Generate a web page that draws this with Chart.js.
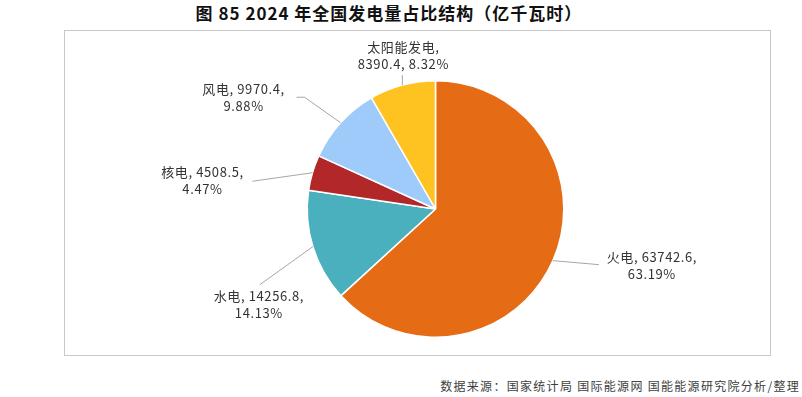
<!DOCTYPE html>
<html>
<head>
<meta charset="utf-8">
<script src="https://cdn.jsdelivr.net/npm/chart.js@4/dist/chart.umd.min.js"></script>
<style>
  html, body { margin: 0; padding: 0; background: #fff; }
  body { width: 802px; height: 397px; position: relative; overflow: hidden; }
  #frame { position: absolute; left: 64px; top: 30px; width: 707px; height: 326px; border: 1px solid #C8C8C8; box-sizing: border-box; }
  #title { position: absolute; left: 0; width: 778px; top: 2px; text-align: center; font-family: "Noto Sans CJK SC", sans-serif; font-weight: bold; font-size: 17px; color: #111; letter-spacing: 1px; line-height: 22px; }
  #source { position: absolute; right: 2px; top: 377px; font-family: "Noto Sans CJK SC", sans-serif; font-size: 12px; color: #404040; letter-spacing: 1.3px; line-height: 18px; font-weight: normal; }
  #wrap { position: absolute; left: 0; top: 0; width: 802px; height: 397px; }
</style>
</head>
<body>
<div id="frame"></div>
<div id="title">图 85 2024 年全国发电量占比结构（亿千瓦时）</div>
<div id="source">数据来源：国家统计局 国际能源网 国能能源研究院分析/整理</div>
<div id="wrap"><canvas id="c" width="802" height="397"></canvas></div>
<script>
// ---- data ----
const categories = ['火电', '水电', '核电', '风电', '太阳能发电'];
const values = [63742.6, 14256.8, 4508.5, 9970.4, 8390.4];
const percents = ['63.19%', '14.13%', '4.47%', '9.88%', '8.32%'];

// ---- style ----
const colors = ['#E56C14', '#4AB0BE', '#B22828', '#9ECBFA', '#FFC321'];
// label line-break style: 'value' -> "name, value," / "pct" ; 'name' -> "name," / "value, pct"
const breakStyle = ['value', 'value', 'value', 'value', 'name'];
// leader geometry relative to the arc edge point: [elbowDx, elbowDy, endDx, endDy, labelDx, labelDy]
const leaders = [
  [46, 4, 46, 4, 99, 5],
  [-53, 38, -53, 38, -54, 58],
  [-60, 8.5, -60, 8.5, -110, 7.5],
  [-36, -25.5, -44, -25.5, -97, -25.5],
  [0, -10, 0, -10, 1, -30]
];

const labelPlugin = {
  id: 'pieLabels',
  afterDatasetsDraw(chart) {
    const ctx = chart.ctx;
    const meta = chart.getDatasetMeta(0);
    ctx.save();
    meta.data.forEach((arc, i) => {
      const p = arc.getProps(['x', 'y', 'startAngle', 'endAngle', 'outerRadius'], true);
      const mid = (p.startAngle + p.endAngle) / 2;
      const ex = p.x + Math.cos(mid) * p.outerRadius;
      const ey = p.y + Math.sin(mid) * p.outerRadius;
      const L = leaders[i];
      ctx.strokeStyle = '#A6A6A6';
      ctx.lineWidth = 1;
      ctx.beginPath();
      ctx.moveTo(ex, ey);
      ctx.lineTo(ex + L[0], ey + L[1]);
      ctx.lineTo(ex + L[2], ey + L[3]);
      ctx.stroke();
      let lines;
      if (breakStyle[i] === 'name') {
        lines = [categories[i] + ',', values[i] + ', ' + percents[i]];
      } else {
        lines = [categories[i] + ', ' + values[i] + ',', percents[i]];
      }
      ctx.fillStyle = '#333';
      ctx.font = '13px "Noto Sans CJK SC", sans-serif';
      try { ctx.letterSpacing = '0.6px'; } catch (e) {}
      ctx.textAlign = 'center';
      ctx.textBaseline = 'middle';
      const cx = ex + L[4], cy = ey + L[5];
      const lh = 17;
      lines.forEach((t, k) => {
        ctx.fillText(t, cx, cy + (k - (lines.length - 1) / 2) * lh);
      });
    });
    ctx.restore();
  }
};

new Chart(document.getElementById('c'), {
  type: 'pie',
  data: {
    labels: categories,
    datasets: [{
      data: values,
      backgroundColor: colors,
      borderColor: '#FFFFFF',
      borderWidth: 1.5
    }]
  },
  options: {
    responsive: false,
    animation: false,
    layout: { padding: { left: 306, right: 237, top: 80, bottom: 59 } },
    plugins: {
      legend: { display: false },
      tooltip: { enabled: false },
      title: { display: false }
    }
  },
  plugins: [labelPlugin]
});
</script>
</body>
</html>
